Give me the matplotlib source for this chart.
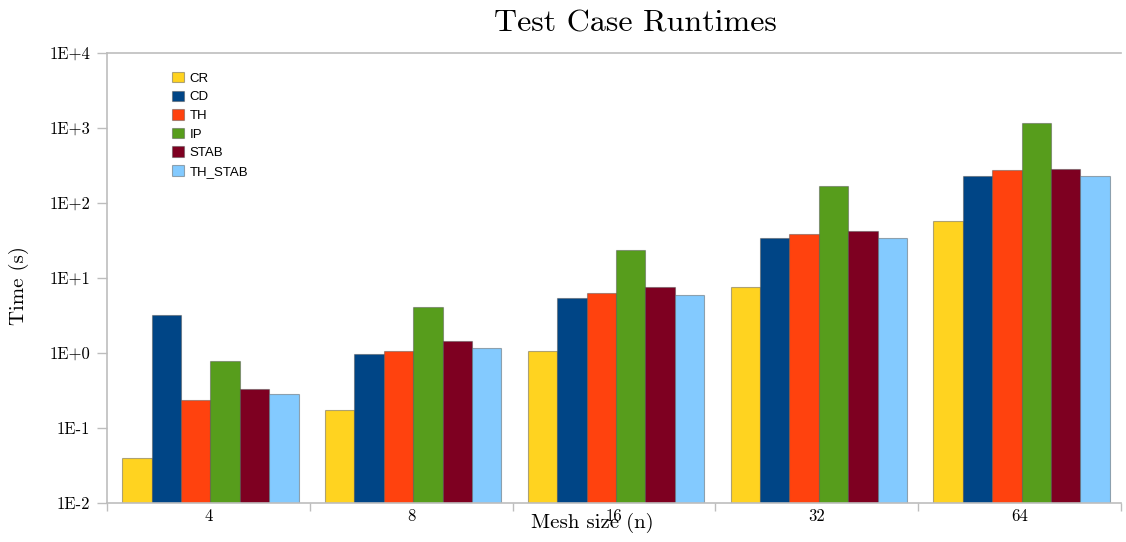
import numpy as np
import matplotlib
matplotlib.use("Agg")
import matplotlib.pyplot as plt

# data
mesh_sizes = ["4", "8", "16", "32", "64"]
series = ["CR", "CD", "TH", "IP", "STAB", "TH_STAB"]
cr = [0.040, 0.172, 1.05, 7.5, 57.5]
cd = [3.18, 0.96, 5.36, 33.8, 227]
th = [0.234, 1.05, 6.25, 38.0, 273]
ip = [0.774, 4.07, 23.4, 167, 1145]
stab = [0.331, 1.43, 7.5, 41.7, 279]
th_stab = [0.279, 1.16, 5.9, 33.8, 227]
colors = ["#FFD320", "#004586", "#FF420E", "#579D1C", "#7E0021", "#83CAFF"]

ytick_vals = [1e-2, 1e-1, 1e0, 1e1, 1e2, 1e3, 1e4]
ytick_labels = ["1E-2", "1E-1", "1E+0", "1E+1", "1E+2", "1E+3", "1E+4"]

serif = "cmr10"
plt.rcParams["axes.unicode_minus"] = False
grey = "#bdbdbd"

fig = plt.figure(figsize=(11.26, 5.42), dpi=100)
ax = fig.add_axes([0.095, 0.0725, 0.9005, 0.8303])

values = [cr, cd, th, ip, stab, th_stab]
x = np.arange(len(mesh_sizes))
w = 0.145
for i, (name, vals) in enumerate(zip(series, values)):
    ax.bar(x + (i - 2.5) * w + 0.01, vals, width=w, color=colors[i],
           edgecolor=(0.3, 0.3, 0.3, 0.45), linewidth=0.8, label=name)

ax.set_yscale("log")
ax.set_ylim(1e-2, 1e4)
ax.set_xlim(-0.5, len(mesh_sizes) - 0.5)
ax.set_yticks(ytick_vals)
ax.set_yticklabels(ytick_labels, fontfamily=serif, fontsize=12)
ax.yaxis.set_minor_locator(matplotlib.ticker.NullLocator())

# category boundaries as major ticks, labels as minor ticks
ax.set_xticks(np.arange(len(mesh_sizes) + 1) - 0.5)
ax.set_xticklabels([])
ax.set_xticks(x, minor=True)
ax.set_xticklabels(mesh_sizes, minor=True, fontfamily=serif, fontsize=12)
ax.tick_params(axis="x", which="minor", length=0, pad=4)
ax.tick_params(axis="x", which="major", length=6, color=grey, width=1)
ax.tick_params(axis="y", length=7, color=grey, width=1, pad=5)

for side in ["left", "bottom", "top"]:
    ax.spines[side].set_color(grey)
    ax.spines[side].set_linewidth(1.2)
ax.spines["right"].set_visible(False)

fig.text(0.564, 0.957, "Test Case Runtimes", ha="center", va="center",
         fontfamily=serif, fontsize=23)
fig.text(0.017, 0.474, "Time (s)", ha="center", va="center", rotation=90,
         fontfamily=serif, fontsize=15)
fig.text(0.526, 0.035, "Mesh size (n)", ha="center", va="center",
         fontfamily=serif, fontsize=15)

ax.legend(loc="upper left", bbox_to_anchor=(0.058, 0.972), frameon=False,
          handlelength=0.85, handleheight=0.85,
          handletextpad=0.45, labelspacing=0.44, borderpad=0,
          prop={"family": ["Liberation Sans", "DejaVu Sans"], "size": 9.5})

fig.savefig("out.png", dpi=100)
